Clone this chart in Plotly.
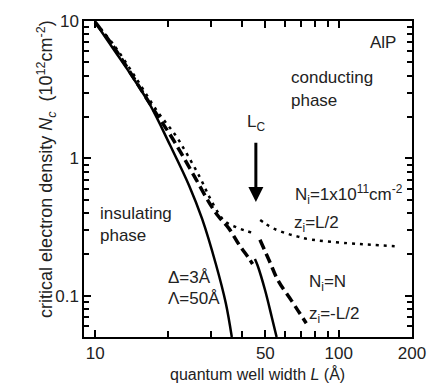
import math
import plotly.graph_objects as go

# ---- data ----
# solid curve: Δ=3Å, Λ=50Å (no impurity)
solid_L = [10.0, 12.0, 13.5, 16.7, 20.3, 24.3, 27.5, 31.3, 34.4, 36.4]
solid_N = [9.8, 6.1, 4.5, 2.5, 1.25, 0.635, 0.362, 0.17, 0.088, 0.05]

# solid segment after Lc
solid2_L = [45.3, 46.5, 49.9, 53.1, 55.6]
solid2_N = [0.185, 0.165, 0.109, 0.070, 0.05]

# dashed: Ni=N, zi=-L/2
dash1_L = [10.0, 11.9, 14.4, 17.8, 20.6, 22.9, 26.0, 29.3, 32.0, 35.4, 39.0, 42.7, 44.3]
dash1_N = [9.8, 6.5, 3.85, 2.12, 1.43, 1.04, 0.70, 0.48, 0.38, 0.309, 0.235, 0.188, 0.17]
dash2_L = [47.5, 52.0, 56.5, 64.0, 69.0, 73.6]
dash2_N = [0.255, 0.178, 0.128, 0.092, 0.075, 0.063]

# dotted: Ni=1x10^11 cm^-2, zi=L/2
dot1_L = [10.0, 12.0, 14.5, 18.0, 21.5, 24.0, 27.0, 29.5, 32.2, 34.3, 38.0, 42.0, 45.3]
dot1_N = [9.8, 6.6, 4.0, 2.2, 1.45, 1.05, 0.72, 0.52, 0.395, 0.345, 0.315, 0.295, 0.284]
dot2_L = [47.6, 49.9, 53.9, 61.0, 68.0, 75.0, 109.0, 140.0, 178.0]
dot2_N = [0.355, 0.335, 0.309, 0.284, 0.269, 0.258, 0.241, 0.234, 0.228]

# arrow marking Lc
Lc = 45.7
arrow_N = [1.33, 0.48]

x_tickvals = [10, 50, 100, 200]
x_ticktext = ["10", "50", "100", "200"]
x_minor = [20, 30, 40, 60, 70, 80, 90]
y_tickvals = [0.1, 1, 10]
y_ticktext = ["0.1", "1", "10"]
y_minor = [0.05, 0.06, 0.07, 0.08, 0.09] + [k / 10 for k in range(2, 10)] + list(range(2, 10))

FONT = "Liberation Sans, Arial, Helvetica, sans-serif"
TXT = "#222222"

fig = go.Figure()
line_black = "black"
fig.add_trace(go.Scatter(x=solid_L, y=solid_N, mode="lines",
                         line=dict(color=line_black, width=2.5), line_shape="spline"))
fig.add_trace(go.Scatter(x=solid2_L, y=solid2_N, mode="lines",
                         line=dict(color=line_black, width=2.5), line_shape="spline"))
fig.add_trace(go.Scatter(x=dash1_L, y=dash1_N, mode="lines",
                         line=dict(color=line_black, width=3.5, dash="10px,5px"), line_shape="spline"))
fig.add_trace(go.Scatter(x=dash2_L, y=dash2_N, mode="lines",
                         line=dict(color=line_black, width=3.5, dash="10px,5px"), line_shape="spline"))
fig.add_trace(go.Scatter(x=dot1_L, y=dot1_N, mode="lines",
                         line=dict(color=line_black, width=2.5, dash="3px,5px"), line_shape="spline"))
fig.add_trace(go.Scatter(x=dot2_L, y=dot2_N, mode="lines",
                         line=dict(color=line_black, width=2.5, dash="3px,5px"), line_shape="spline"))

W, H = 438, 385
L_, R_, T_, B_ = 84, 24, 16, 48
pw, ph = W - L_ - R_, H - T_ - B_


def px(x, y):
    return (x - L_) / pw, (H - B_ - y) / ph


def txt(text, x, y, xanchor="left", size=17, **kw):
    xp, yp = px(x, y)
    fig.add_annotation(text=text, x=xp, y=yp, xref="paper", yref="paper",
                       xanchor=xanchor, yanchor="middle", showarrow=False,
                       font=dict(family=FONT, size=size, color=TXT), **kw)


# arrow
fig.add_annotation(x=math.log10(Lc), y=math.log10(arrow_N[1]), ax=math.log10(Lc),
                   ay=math.log10(arrow_N[0]), xref="x", yref="y", axref="x", ayref="y",
                   text="", showarrow=True, arrowhead=2, arrowsize=1.0, arrowwidth=3,
                   arrowcolor="black")

txt("AlP", 400, 38, xanchor="right")
txt("conducting", 290, 73)
txt("phase", 290, 97)
txt("L<sub>C</sub>", 246, 120)
txt("N<sub>i</sub>=1x10<sup>11</sup>cm<sup>-2</sup>", 294, 192)
txt("z<sub>i</sub>=L/2", 293, 222)
txt("N<sub>i</sub>=N", 308, 282)
txt("z<sub>i</sub>=-L/2", 308, 315)
txt("insulating", 98, 212)
txt("phase", 98, 234)
txt("Δ=3Å", 167, 277)
txt("Λ=50Å", 167, 298)

# axis titles
txt("quantum well width <i>L</i> (Å)", 259, 375, xanchor="center", size=16)
xp, yp = px(46, 166)
fig.add_annotation(text="critical electron density <i>N</i><sub><i>c</i></sub>  (10<sup>12</sup>cm<sup>-2</sup>)",
                   x=xp, y=yp, xref="paper", yref="paper", xanchor="center", yanchor="middle",
                   textangle=-90, showarrow=False, font=dict(family=FONT, size=18, color=TXT))

axis_common = dict(type="log", showgrid=False, zeroline=False, showline=True, linecolor="black",
                   linewidth=1.5, mirror="allticks", ticks="inside", ticklen=7, tickwidth=1.5,
                   tickcolor="black", tickfont=dict(family=FONT, size=17, color=TXT))

fig.update_xaxes(range=[math.log10(9), math.log10(200)], tickvals=x_tickvals, ticktext=x_ticktext,
                 minor=dict(tickvals=x_minor, ticks="inside", ticklen=6, tickwidth=1.5, tickcolor="black"),
                 **axis_common)
fig.update_yaxes(range=[math.log10(0.05), 1], tickvals=y_tickvals, ticktext=y_ticktext,
                 minor=dict(tickvals=y_minor, ticks="inside", ticklen=5, tickwidth=1.5, tickcolor="black"),
                 **axis_common)

fig.update_layout(width=W, height=H, margin=dict(l=L_, r=R_, t=T_, b=B_),
                  plot_bgcolor="white", paper_bgcolor="white", showlegend=False,
                  font=dict(family=FONT, color=TXT))

fig.write_html("out.html")
